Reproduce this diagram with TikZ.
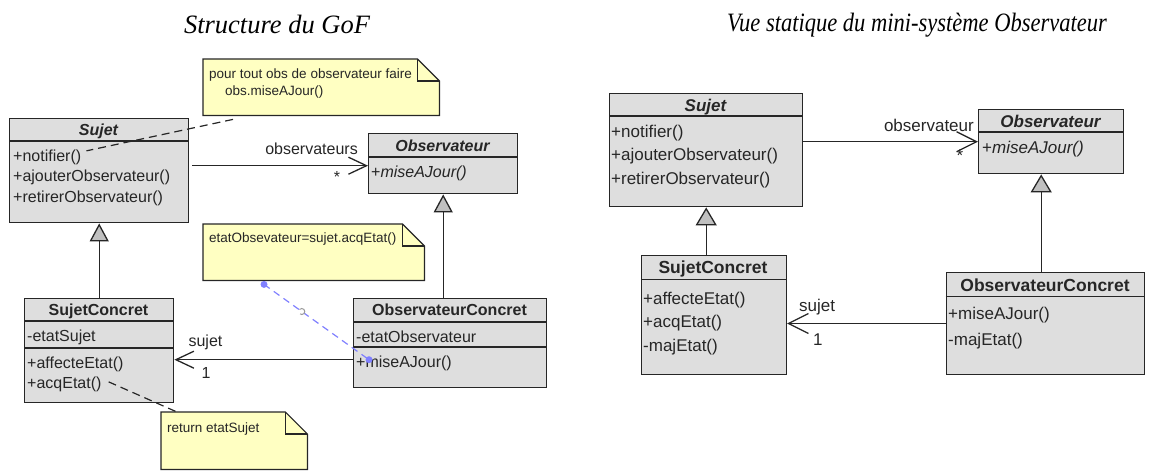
\documentclass[tikz,border=0pt]{standalone}
\usepackage{fontspec}
\setmainfont{Liberation Serif}
\newfontfamily\umlfont{Liberation Sans}
\usepackage{graphicx}
\usepackage{tikz}
\usetikzlibrary{arrows.meta,calc,positioning}
\definecolor{ink}{HTML}{262626}
\definecolor{clsgray}{HTML}{DEDEDE}
\definecolor{trigray}{HTML}{C0C0C0}
\definecolor{noteyel}{HTML}{FFFFC2}
\definecolor{linkblue}{HTML}{8080FF}
\definecolor{dotgray}{HTML}{9A9A9A}

\begin{document}
\begin{tikzpicture}[x=1pt,y=-1pt,
    cls/.style={draw=ink,fill=clsgray,line width=1.4pt,inner sep=0pt,anchor=north west},
    sep/.style={draw=ink,line width=1.2pt},
    notebox/.style={inner sep=0pt,anchor=north west},
    op/.style={anchor=base west,inner sep=0pt,text=ink,font=\umlfont\fontsize{16}{18}\selectfont},
    hd/.style={anchor=base,inner sep=0pt,text=ink,font=\umlfont\bfseries\fontsize{16}{18}\selectfont},
    optwo/.style={anchor=base west,inner sep=0pt,text=ink,font=\umlfont\fontsize{17}{19}\selectfont},
    hdtwo/.style={anchor=base,inner sep=0pt,text=ink,font=\umlfont\bfseries\fontsize{17.5}{19}\selectfont},
    notetxt/.style={anchor=base west,inner sep=0pt,text=ink,font=\umlfont\fontsize{13.5}{15}\selectfont},
    ttl/.style={anchor=base,inner sep=0pt,font=\itshape\fontsize{26.5}{30}\selectfont},
    assoc/.style={draw=ink,line width=1.3pt,-{Straight Barb[length=18pt,width=17pt]}},
    assoctwo/.style={draw=ink,line width=1.3pt,-{Straight Barb[length=20pt,width=20pt]}},
    gen/.style={draw=ink,line width=1.3pt,-{Triangle[length=18pt,width=19pt,fill=trigray]}},
    gentwo/.style={draw=ink,line width=1.3pt,-{Triangle[length=18pt,width=21pt,fill=trigray]}},
    notelink/.style={draw=ink,line width=1.2pt,dash pattern=on 8pt off 5pt},
    bluedot/.style={circle,fill=linkblue,inner sep=0pt,minimum size=7pt}]
  \useasboundingbox (0,0) rectangle (1149,471);

  % titles
  \node[ttl] (title1) at (277,33) {Structure du GoF};
  \node[ttl] (title2) at (917,31) {\scalebox{0.85}[1]{Vue statique du mini-système Observateur}};

  % ---- structure du GoF ----
  \node[cls,minimum width=179pt,minimum height=104pt] (sujet) at (9,118) {};
  \draw[sep] (sujet.west |- 0,141) -- (sujet.east |- 0,141);
  \node[hd,font=\umlfont\bfseries\itshape\fontsize{16}{18}\selectfont] (sujetHd) at (98.5,135) {Sujet};
  \node[op] (sujetOp1) at (13,161) {+notifier()};
  \node[op] (sujetOp2) at (13,181) {+ajouterObservateur()};
  \node[op] (sujetOp3) at (13,202) {+retirerObservateur()};

  \node[cls,minimum width=149pt,minimum height=60pt] (obs) at (368,133) {};
  \draw[sep] (obs.west |- 0,157) -- (obs.east |- 0,157);
  \node[hd,font=\umlfont\bfseries\itshape\fontsize{16}{18}\selectfont] (obsHd) at (442.5,151) {Observateur};
  \node[op] (obsOp1) at (371,177) {+\textit{miseAJour()}};

  \node[cls,minimum width=149pt,minimum height=104pt] (sc) at (24,298) {};
  \draw[sep] (sc.west |- 0,321) -- (sc.east |- 0,321);
  \draw[sep] (sc.west |- 0,348) -- (sc.east |- 0,348);
  \node[hd] (scHd) at (98.5,315) {SujetConcret};
  \node[op] (scAt1) at (27,341) {-etatSujet};
  \node[op] (scOp1) at (27,368) {+affecteEtat()};
  \node[op] (scOp2) at (27,388) {+acqEtat()};

  \node[cls,minimum width=193pt,minimum height=89pt] (oc) at (353,298) {};
  \draw[sep] (oc.west |- 0,322) -- (oc.east |- 0,322);
  \draw[sep] (oc.west |- 0,347) -- (oc.east |- 0,347);
  \node[hd] (ocHd) at (449.5,315) {ObservateurConcret};
  \node[op] (ocAt1) at (356,342) {-etatObservateur};
  \node[op] (ocOp1) at (356,367) {+miseAJour()};

  % notes
  \node[notebox,minimum width=236pt,minimum height=56pt] (n1) at (203,59) {};
  \node[notebox,minimum width=221pt,minimum height=56pt] (n2) at (203,224) {};
  \node[notebox,minimum width=146pt,minimum height=57pt] (n3) at (161,412) {};
  \foreach \n in {n1,n2,n3}{
    \filldraw[draw=ink,fill=noteyel,line width=1.2pt] (\n.north west) -- ($(\n.north east)+(-22,0)$)
      -- ($(\n.north east)+(0,22)$) -- (\n.south east) -- (\n.south west) -- cycle;
    \draw[ink,line width=1.2pt] ($(\n.north east)+(-22,0)$) -- ($(\n.north east)+(-22,22)$) -- ($(\n.north east)+(0,22)$);
  }
  \node[notetxt] (n1t1) at (209,78) {pour tout obs de observateur faire};
  \node[notetxt] (n1t2) at (225,95) {obs.miseAJour()};
  \node[notetxt] (n2t1) at (209,242) {etatObsevateur=sujet.acqEtat()};
  \node[notetxt] (n3t1) at (167,432) {return etatSujet};

  % links
  \draw[assoc] ($(sujet.east |- obs.west)+(3,2)$) -- ($(obs.west)+(0,2)$);
  \node[op,anchor=base east] (lblObs) at ($(obs.west)+(-10,-9)$) {observateurs};
  \node[op,anchor=center] (lblStar) at ($(obs.west)+(-31,13)$) {*};
  \draw[assoc] ($(oc.west)+(0,16.5)$) -- ($(sc.east |- oc.west)+(0,16.5)$);
  \node[op] (lblSujet) at ($(sc.east |- oc.west)+(14,3.5)$) {sujet};
  \node[op] (lblOne) at ($(sc.east |- oc.west)+(27,35.5)$) {1};
  \draw[gen] (sc.north) -- (sc.north |- sujet.south);
  \draw[gen] (obs.south |- oc.north) -- (obs.south);
  \draw[notelink] ($(n1.south west)+(30,4)$) -- ($(sujetOp1.east)+(5,-6)$);
  \draw[notelink] ($(scOp2.east)+(7,-2)$) -- ($(n3.north west)+(16,0)$);
  \node[bluedot] (d1) at ($(n2.south west)+(61,4)$) {};
  \node[bluedot] (d2) at ($(oc.west)+(16,16.5)$) {};
  \draw[linkblue,line width=1.2pt,dash pattern=on 7pt off 5pt] (d1.center) -- (d2.center)
    node[pos=0.36,circle,draw=dotgray,fill=white,inner sep=0pt,minimum size=6pt,line width=1pt] (mid) {};

  % ---- vue statique ----
  \node[cls,minimum width=193pt,minimum height=113pt] (sujet2) at (609,93) {};
  \draw[sep] (sujet2.west |- 0,116) -- (sujet2.east |- 0,116);
  \node[hdtwo,font=\umlfont\bfseries\itshape\fontsize{17}{19}\selectfont] (sujet2Hd) at (705.5,111) {Sujet};
  \node[optwo] (sujet2Op1) at (611,137) {+notifier()};
  \node[optwo] (sujet2Op2) at (611,160) {+ajouterObservateur()};
  \node[optwo] (sujet2Op3) at (611,184) {+retirerObservateur()};

  \node[cls,minimum width=145pt,minimum height=64pt] (obs2) at (978,109) {};
  \draw[sep] (obs2.west |- 0,132) -- (obs2.east |- 0,132);
  \node[hdtwo,font=\umlfont\bfseries\itshape\fontsize{17}{19}\selectfont] (obs2Hd) at (1050.5,127) {Observateur};
  \node[optwo] (obs2Op1) at (982,153) {+\textit{miseAJour()}};

  \node[cls,minimum width=144.6pt,minimum height=118.6pt] (sc2) at (641,255) {};
  \draw[sep] (sc2.west |- 0,279.7) -- (sc2.east |- 0,279.7);
  \node[hdtwo] (sc2Hd) at (713,273) {SujetConcret};
  \node[optwo] (sc2Op1) at (643,304) {+affecteEtat()};
  \node[optwo] (sc2Op2) at (643,327) {+acqEtat()};
  \node[optwo] (sc2Op3) at (643,351) {-majEtat()};

  \node[cls,minimum width=198.4pt,minimum height=101.6pt] (oc2) at (945.6,272) {};
  \draw[sep] (oc2.west |- 0,296.5) -- (oc2.east |- 0,296.5);
  \node[hdtwo] (oc2Hd) at (1045,291) {ObservateurConcret};
  \node[optwo] (oc2Op1) at (948,319) {+miseAJour()};
  \node[optwo] (oc2Op2) at (948,345) {-majEtat()};

  \draw[assoctwo] (sujet2.east |- obs2.west) -- (obs2.west);
  \node[optwo,anchor=base east] (lblObs2) at ($(obs2.west)+(-4,-10)$) {observateur};
  \node[optwo,anchor=center] (lblStar2) at ($(obs2.west)+(-18,14)$) {*};
  \draw[assoctwo] (oc2.west) -- (sc2.east |- oc2.west);
  \node[optwo] (lblSujet2) at ($(sc2.east |- oc2.west)+(12,-12.5)$) {sujet};
  \node[optwo] (lblOne2) at ($(sc2.east |- oc2.west)+(26,22)$) {1};
  \draw[gentwo] (sujet2.south |- sc2.north) -- (sujet2.south);
  \draw[gentwo] ($(obs2.south |- oc2.north)+(-10,0)$) -- ($(obs2.south)+(-10,0)$);
\end{tikzpicture}
\end{document}
